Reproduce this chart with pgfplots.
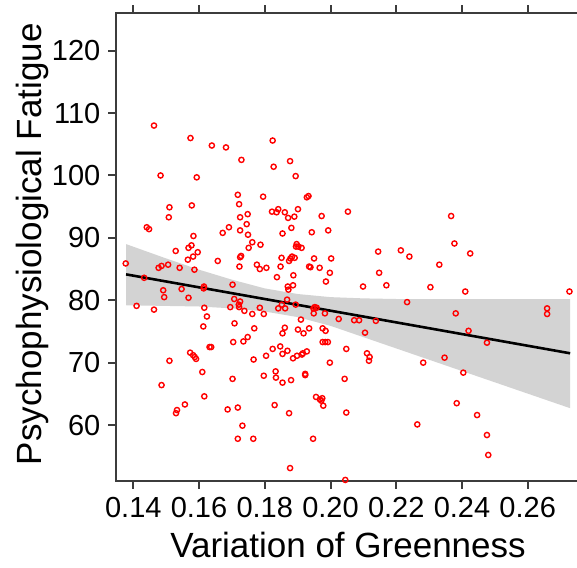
\documentclass[border=0pt]{standalone}
\usepackage{fontspec}
\setmainfont{Liberation Sans}
\usepackage{pgfplots}
\pgfplotsset{compat=1.18}
\definecolor{axisgray}{HTML}{3C3C3C}
\definecolor{bandgray}{HTML}{D3D3D3}

\begin{document}
\begin{tikzpicture}
\begin{axis}[
    at={(0,0)}, anchor=south west,
    scale only axis, width=232pt, height=234pt,
    xmin=0.13474, xmax=0.27591, ymin=51.03, ymax=126.04,
    xtick={0.14,0.16,0.18,0.20,0.22,0.24,0.26},
    xticklabels={0.14,0.16,0.18,0.20,0.22,0.24,0.26},
    ytick={60,70,80,90,100,110,120},
    xtick pos=both, ytick pos=left, xticklabel pos=lower,
    tick align=outside, major tick length=3.8pt,
    axis line style={axisgray, line width=1pt},
    every tick/.style={axisgray, line width=1pt},
    tick label style={font=\fontsize{14.5}{16}\selectfont},
    xticklabel style={yshift=-1pt},
    yticklabel style={xshift=-0.5pt},
    /pgf/number format/assume math mode=true,
    label style={font=\fontsize{17.5}{20}\selectfont},
    xlabel={Variation of Greenness},
    ylabel={Psychophysiological Fatigue},
    xlabel style={at={(axis description cs:0.5,-0.1624)}, anchor=base},
    ylabel style={at={(axis description cs:-0.1616,0.506)}, anchor=base},
]
% confidence band
\addplot[fill=bandgray, draw=none] coordinates {
    (0.1378,89.0) (0.15,86.7) (0.16,84.9) (0.17,83.3) (0.18,81.9)
    (0.19,81.0) (0.20,80.5) (0.21,80.3) (0.22,80.2) (0.2729,80.2)
    (0.2729,62.7) (0.20,75.9) (0.19,77.3) (0.18,78.2) (0.17,78.7)
    (0.16,79.0) (0.1378,79.2)
};
% observations
\addplot[only marks, mark=o, mark size=1.3pt, red, mark options={line width=0.7pt}] table {
x y
0.1463 108.0
0.1574 106.0
0.1639 104.8
0.1682 104.5
0.1824 105.6
0.1729 102.5
0.1877 102.3
0.1827 101.4
0.1483 100.0
0.1593 99.7
0.1894 99.9
0.1718 96.9
0.1795 96.6
0.1928 96.5
0.1933 96.7
0.1510 94.9
0.1578 95.2
0.1722 95.4
0.1901 94.6
0.1822 94.2
0.1841 94.6
0.1836 94.1
0.1861 94.1
0.1508 93.3
0.1725 93.3
0.1748 93.8
0.1871 93.2
0.1890 93.4
0.1973 93.5
0.1441 91.7
0.1448 91.4
0.1691 91.7
0.1745 92.2
0.1672 90.8
0.1725 91.2
0.1881 91.6
0.1943 90.9
0.1993 91.2
0.1583 90.3
0.1749 90.5
0.1854 90.7
0.1577 88.8
0.1568 88.4
0.1762 89.3
0.1751 88.4
0.1787 88.9
0.1897 89.0
0.1895 88.6
0.1912 88.4
0.1902 88.6
0.1529 87.9
0.1596 87.7
0.1582 87.0
0.1566 86.5
0.1725 86.9
0.1728 87.1
0.1851 86.8
0.1883 87.0
0.1891 86.8
0.1878 86.7
0.1950 86.7
0.2002 86.7
0.1377 85.9
0.1657 86.3
0.1874 86.3
0.1486 85.5
0.1477 85.2
0.1506 85.7
0.1541 85.2
0.1586 84.9
0.1723 85.4
0.1776 85.7
0.1785 85.0
0.1805 85.2
0.1848 85.4
0.1935 85.4
0.1939 85.3
0.1967 85.2
0.1998 84.4
0.1887 84.0
0.1837 83.7
0.1433 83.6
0.1986 83.0
0.1702 82.5
0.1615 82.2
0.1614 81.9
0.1547 81.8
0.1870 82.2
0.1872 81.7
0.1886 82.4
0.1491 81.6
0.1494 80.5
0.1568 80.4
0.1707 80.2
0.1868 80.1
0.1410 79.1
0.1463 78.5
0.1616 78.8
0.1695 78.9
0.1722 78.9
0.1725 79.8
0.1721 79.3
0.1738 78.3
0.1762 77.8
0.1785 78.8
0.1797 77.8
0.1841 78.7
0.1862 78.7
0.1852 79.3
0.1894 79.3
0.1948 78.7
0.1952 78.9
0.1958 78.8
0.1949 77.9
0.1983 77.9
0.2025 77.0
0.1624 77.4
0.1613 75.8
0.1708 76.3
0.1768 75.5
0.1861 75.6
0.1854 74.7
0.1910 76.9
0.1901 75.3
0.1918 74.7
0.1935 75.5
0.1976 75.5
0.1985 75.1
0.1748 74.1
0.1735 73.4
0.1704 73.3
0.1976 73.3
0.1984 73.3
0.1992 73.3
0.1573 71.6
0.1582 71.2
0.1587 70.9
0.1591 70.6
0.1632 72.5
0.1637 72.5
0.1510 70.3
0.1766 70.5
0.1804 71.1
0.1824 72.2
0.1847 72.6
0.1854 71.4
0.1869 71.9
0.1886 70.7
0.1898 71.1
0.1913 71.3
0.1916 71.5
0.1928 71.8
0.1998 70.0
0.1610 68.5
0.1702 67.4
0.1797 67.9
0.1833 68.6
0.1834 67.6
0.1854 66.8
0.1880 67.2
0.1923 68.2
0.1923 68.0
0.1486 66.4
0.1616 64.6
0.1557 63.3
0.1533 62.4
0.1530 61.9
0.1687 62.5
0.1718 62.8
0.1830 63.2
0.1874 61.9
0.1956 64.5
0.1968 64.1
0.1975 64.3
0.1972 63.9
0.1978 63.1
0.1732 59.9
0.1718 57.8
0.1765 57.8
0.1947 57.8
0.1877 53.1
0.2053 94.2
0.2367 93.5
0.2145 87.8
0.2214 88.0
0.2240 87.0
0.2377 89.1
0.2425 87.5
0.2148 84.4
0.2331 85.7
0.2099 82.2
0.2170 82.4
0.2304 82.1
0.2410 81.4
0.2727 81.4
0.2233 79.7
0.2659 78.7
0.2659 77.8
0.2381 77.9
0.2072 76.8
0.2087 76.8
0.2138 76.7
0.2105 74.8
0.2420 75.1
0.2476 73.2
0.2048 72.2
0.2111 71.5
0.2119 70.9
0.2117 70.3
0.2282 70.0
0.2347 70.8
0.2043 67.4
0.2404 68.4
0.2384 63.5
0.2048 62.0
0.2446 61.6
0.2264 60.1
0.2476 58.4
0.2480 55.2
0.2045 51.2
};
% fitted line
\addplot[black, line width=1.3pt] coordinates {(0.1378,84.15) (0.2729,71.5)};
\end{axis}
\pgfresetboundingbox
\path[use as bounding box] (-58pt,-43pt) rectangle (230.5pt,240.5pt);
\end{tikzpicture}
\end{document}
